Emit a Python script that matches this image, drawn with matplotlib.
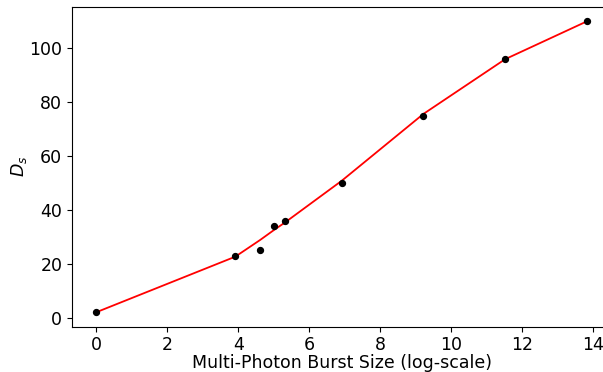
import numpy as np
import matplotlib
matplotlib.use("Agg")
import matplotlib.pyplot as plt

# Data (log burst size vs D_s)
x_log = [0.0, 3.91, 4.61, 5.01, 5.30, 6.91, 9.21, 11.51, 13.82]
ds_obs = [2, 23, 25, 34, 36, 50, 75, 96, 110]
ds_fit = [2.0, 22.6, 28.8, 32.6, 35.2, 50.8, 75.6, 95.9, 110.0]

W, H = 603, 372
fig = plt.figure(figsize=(W / 100, H / 100), dpi=100)
left_px, bottom_px, top_px = 72.0, 326.7, 6.7
xmin, xmax = -0.69, 14.51
px_per_unit = 35.5
width_px = (xmax - xmin) * px_per_unit
ax = fig.add_axes([left_px / W, 1 - bottom_px / H, width_px / W, (bottom_px - top_px) / H])

ax.plot(x_log, ds_fit, color="red", lw=1.3, zorder=2)
ax.scatter(x_log, ds_obs, s=18, color="black", zorder=3)

ax.set_xlim(xmin, xmax)
ax.set_ylim(-3.4, 115.4)
ax.set_xticks([0, 2, 4, 6, 8, 10, 12, 14])
ax.set_yticks([0, 20, 40, 60, 80, 100])
ax.tick_params(labelsize=12.5)
ax.set_xlabel("Multi-Photon Burst Size (log-scale)", fontsize=12.5, labelpad=0)
ax.set_ylabel("$D_s$", fontsize=12.5, labelpad=0)

fig.savefig("out.png", dpi=100)
